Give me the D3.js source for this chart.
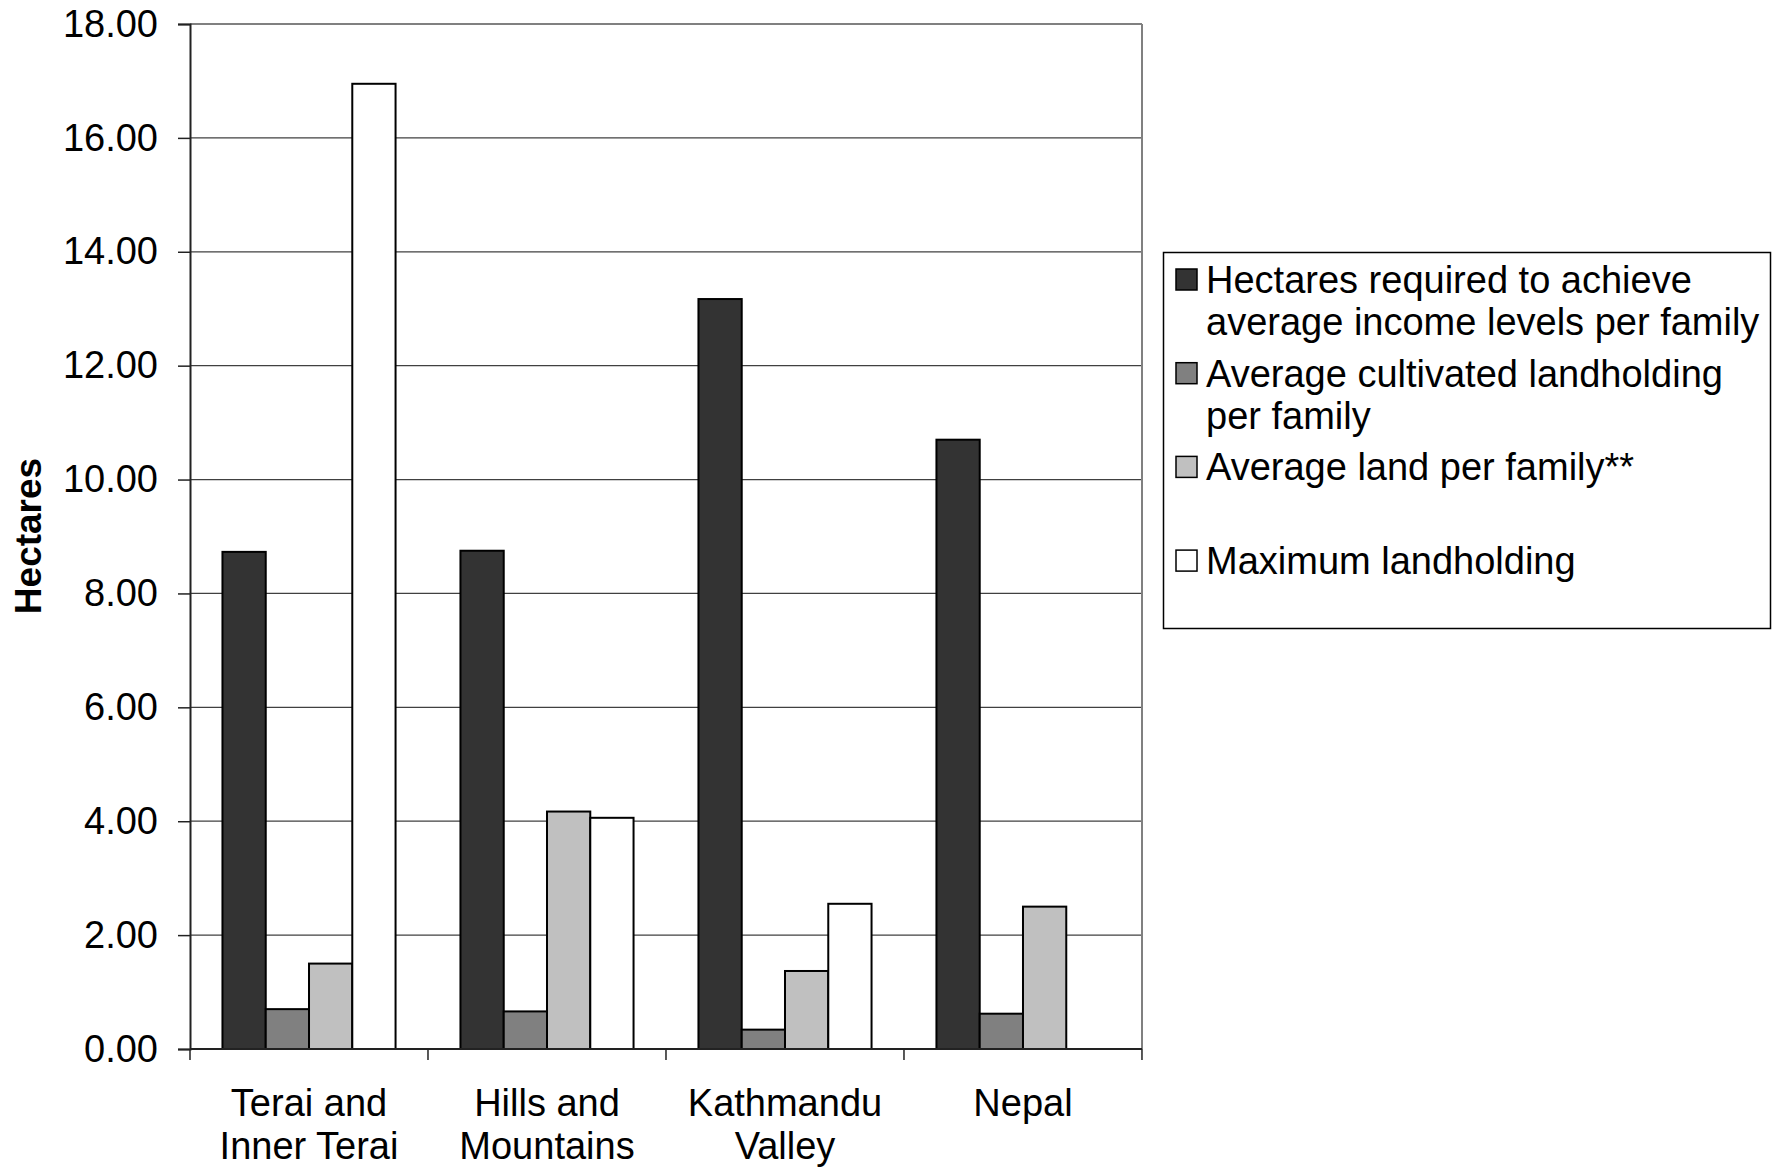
<!DOCTYPE html>
<html>
<head>
<meta charset="utf-8">
<script src="https://cdn.jsdelivr.net/npm/d3@7"></script>
<style>
  html, body { margin: 0; padding: 0; background: #fff; }
  svg { display: block; font-family: "Liberation Sans", Arial, sans-serif; }
</style>
</head>
<body>
<svg id="chart" width="1778" height="1168"></svg>
<script>
// Regions (each label split into display lines)
const categories = ["Terai and Inner Terai", "Hills and Mountains", "Kathmandu Valley", "Nepal"];
const categoryLines = [["Terai and", "Inner Terai"], ["Hills and", "Mountains"], ["Kathmandu", "Valley"], ["Nepal"]];

// Series names and legend text lines
const seriesNames = [
  "Hectares required to achieve average income levels per family",
  "Average cultivated landholding per family",
  "Average land per family**",
  "Maximum landholding"
];
const legendLines = [
  ["Hectares required to achieve", "average income levels per family"],
  ["Average cultivated landholding", "per family"],
  ["Average land per family**"],
  ["Maximum landholding"]
];

// Values in hectares, one array per series (in category order)
const requiredHa   = [8.73, 8.75, 13.17, 10.70];
const cultivatedHa = [0.70, 0.66, 0.34, 0.62];
const avgLandHa    = [1.50, 4.17, 1.37, 2.50];
const maxHoldingHa = [16.95, 4.06, 2.55, null];

const seriesValues = [requiredHa, cultivatedHa, avgLandHa, maxHoldingHa];
const seriesColors = ["#333333", "#808080", "#c0c0c0", "#ffffff"];

const yTicks = [0, 2, 4, 6, 8, 10, 12, 14, 16, 18];

const FONT = 38;

const svg = d3.select("#chart");
const plot = { left: 190, right: 1142, top: 24, bottom: 1049 };

const x = d3.scaleBand()
  .domain(categories)
  .range([plot.left, plot.right])
  .paddingInner(0.2727)
  .paddingOuter(0.1364);

const xSeries = d3.scaleBand()
  .domain(d3.range(seriesNames.length))
  .range([0, x.bandwidth()])
  .padding(0);

const y = d3.scaleLinear().domain([0, 18]).range([plot.bottom, plot.top]);

// Horizontal gridlines
svg.append("g")
  .selectAll("line")
  .data(yTicks.filter(d => d > 0))
  .join("line")
  .attr("x1", plot.left).attr("x2", plot.right)
  .attr("y1", d => y(d)).attr("y2", d => y(d))
  .attr("stroke", d => d === 18 ? "#808080" : "#404040")
  .attr("stroke-width", d => d === 18 ? 2 : 1.2);

// Right border of plot area
svg.append("line")
  .attr("x1", plot.right).attr("x2", plot.right)
  .attr("y1", plot.top).attr("y2", plot.bottom)
  .attr("stroke", "#808080").attr("stroke-width", 2);

// Bars
const rows = [];
categories.forEach((c, ci) => {
  seriesValues.forEach((vals, si) => {
    if (vals[ci] != null) rows.push({ c, si, v: vals[ci] });
  });
});

svg.append("g")
  .selectAll("rect")
  .data(rows)
  .join("rect")
  .attr("x", d => x(d.c) + xSeries(d.si))
  .attr("y", d => y(d.v))
  .attr("width", xSeries.bandwidth())
  .attr("height", d => y(0) - y(d.v))
  .attr("fill", d => seriesColors[d.si])
  .attr("stroke", "#000")
  .attr("stroke-width", 2);

// Y axis
const yAxis = d3.axisLeft(y)
  .tickValues(yTicks)
  .tickFormat(d3.format(".2f"))
  .tickSize(12)
  .tickPadding(20);

const gy = svg.append("g")
  .attr("transform", `translate(${plot.left},0)`)
  .call(yAxis);
gy.select(".domain").attr("stroke", "#222").attr("stroke-width", 2);
gy.selectAll(".tick line").attr("stroke", "#222").attr("stroke-width", 1.5);
gy.selectAll(".tick text")
  .attr("font-size", FONT)
  .attr("fill", "#000")
  .attr("font-family", "'Liberation Sans', Arial, sans-serif");

// X axis baseline with category separator ticks
svg.append("line")
  .attr("x1", plot.left).attr("x2", plot.right)
  .attr("y1", plot.bottom).attr("y2", plot.bottom)
  .attr("stroke", "#222").attr("stroke-width", 2);

const step = x.step();
const sepX = d3.range(categories.length + 1).map(i => plot.left + i * step);
svg.append("g")
  .selectAll("line")
  .data(sepX)
  .join("line")
  .attr("x1", d => d).attr("x2", d => d)
  .attr("y1", plot.bottom).attr("y2", plot.bottom + 11)
  .attr("stroke", "#222").attr("stroke-width", 1.5);

// Category labels
const catG = svg.append("g")
  .selectAll("text")
  .data(categories)
  .join("text")
  .attr("x", d => x(d) + x.bandwidth() / 2)
  .attr("y", 1116)
  .attr("text-anchor", "middle")
  .attr("font-size", FONT)
  .attr("fill", "#000");
catG.each(function(d, i) {
  const t = d3.select(this);
  categoryLines[i].forEach((line, li) => {
    t.append("tspan")
      .attr("x", x(d) + x.bandwidth() / 2)
      .attr("dy", li === 0 ? 0 : 43)
      .text(line);
  });
});

// Y axis title
svg.append("text")
  .attr("transform", `translate(41,536) rotate(-90)`)
  .attr("text-anchor", "middle")
  .attr("font-size", 37)
  .attr("font-weight", "bold")
  .attr("fill", "#000")
  .text("Hectares");

// Legend
const legend = svg.append("g");
legend.append("rect")
  .attr("x", 1163.5).attr("y", 252.5)
  .attr("width", 607).attr("height", 376)
  .attr("fill", "#fff")
  .attr("stroke", "#000").attr("stroke-width", 1.5);

const entryY = i => 280 + i * 93.7;
const items = legend.selectAll("g.item")
  .data(seriesNames)
  .join("g")
  .attr("class", "item");

items.append("rect")
  .attr("x", 1176).attr("y", (d, i) => entryY(i) - 11)
  .attr("width", 21).attr("height", 21)
  .attr("fill", (d, i) => seriesColors[i])
  .attr("stroke", "#000").attr("stroke-width", 1.5);

items.each(function(d, i) {
  const t = d3.select(this).append("text")
    .attr("x", 1206)
    .attr("y", entryY(i) + 13)
    .attr("font-size", FONT)
    .attr("fill", "#000");
  legendLines[i].forEach((line, li) => {
    t.append("tspan")
      .attr("x", 1206)
      .attr("dy", li === 0 ? 0 : 42)
      .text(line);
  });
});
</script>
</body>
</html>
